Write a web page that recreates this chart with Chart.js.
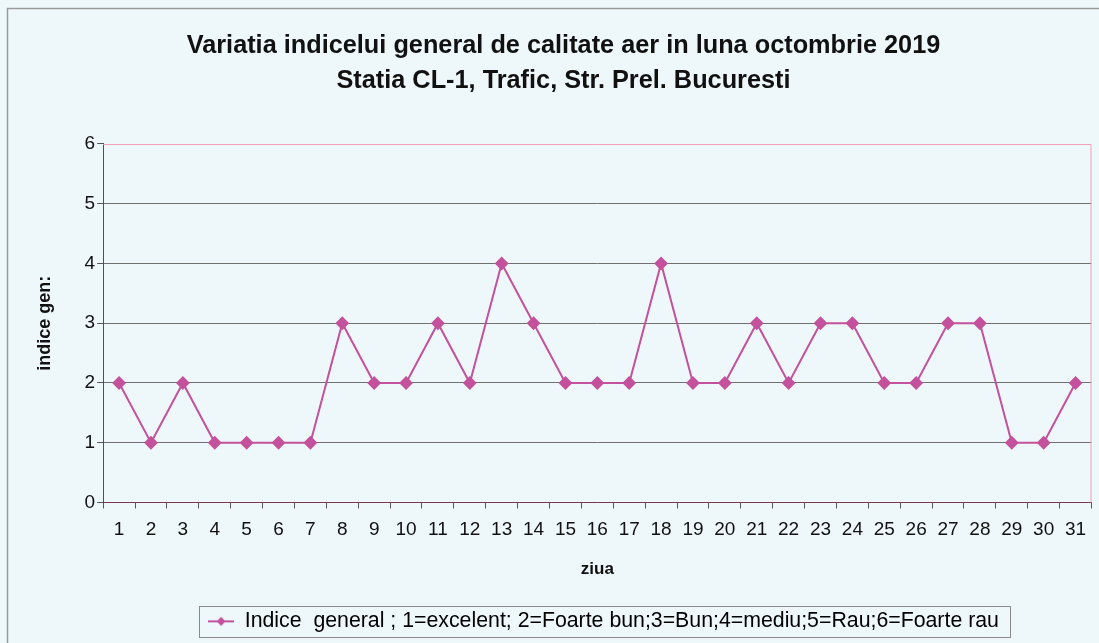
<!DOCTYPE html>
<html>
<head>
<meta charset="utf-8">
<script src="https://cdn.jsdelivr.net/npm/chart.js@4.4.0/dist/chart.umd.min.js"></script>
<style>
  body { margin: 0; background: #eef8fb; }
  canvas { display: block; }
</style>
</head>
<body>
<canvas id="myChart" width="1099" height="643"></canvas>
<script>
// days of october 2019
const days = ["1","2","3","4","5","6","7","8","9","10","11","12","13","14","15","16","17","18","19","20","21","22","23","24","25","26","27","28","29","30","31"];
// general index per day
const indexValues = [2,1,2,1,1,1,1,3,2,2,3,2,4,3,2,2,2,4,2,2,3,2,3,3,2,2,3,3,1,1,2];
const yTicks = [0,1,2,3,4,5,6];

const titleLines = ["Variatia indicelui general de calitate aer in luna octombrie 2019", "Statia CL-1, Trafic, Str. Prel. Bucuresti"];
const seriesLabel = "Indice  general ; 1=excelent; 2=Foarte bun;3=Bun;4=mediu;5=Rau;6=Foarte rau";

const lineColor = "#c4519c";

//legend symbol: short line with a diamond in the middle
const legendSymbol = document.createElement("canvas");
legendSymbol.width = 26;
legendSymbol.height = 12;
const sctx = legendSymbol.getContext("2d");
sctx.strokeStyle = lineColor;
sctx.lineWidth = 2;
sctx.beginPath();
sctx.moveTo(0, 6);
sctx.lineTo(26, 6);
sctx.stroke();
sctx.fillStyle = lineColor;
sctx.beginPath();
sctx.moveTo(13, 1.5);
sctx.lineTo(17.5, 6);
sctx.lineTo(13, 10.5);
sctx.lineTo(8.5, 6);
sctx.closePath();
sctx.fill();

//background, outer frame, plot frame and legend box
const framePlugin = {
  id: "frames",
  afterLayout(chart) {
    //legend sits under the plot area, not the whole canvas
    chart.legend.left += 40;
    chart.legend.right += 40;
  },
  beforeDraw(chart) {
    const c = chart.ctx;
    c.save();
    c.fillStyle = "#eef8fb";
    c.fillRect(0, 0, chart.width, chart.height);
    c.strokeStyle = "#9a9a9a";
    c.lineWidth = 1.5;
    c.strokeRect(7.5, 8.5, chart.width + 20, chart.height + 20);
    c.restore();
  },
  afterDraw(chart) {
    const c = chart.ctx;
    const a = chart.chartArea;
    c.save();
    c.strokeStyle = "#f0a0b8";
    c.lineWidth = 1;
    c.beginPath();
    c.moveTo(a.left, a.top + 0.5);
    c.lineTo(a.right - 0.5, a.top + 0.5);
    c.lineTo(a.right - 0.5, a.bottom);
    c.stroke();
    const hb = chart.legend.legendHitBoxes[0];
    if (hb) {
      c.strokeStyle = "#8a8a8a";
      c.lineWidth = 1;
      const x0 = Math.round(hb.left - 9) + 0.5;
      const y0 = Math.round(hb.top + hb.height / 2 - 15.5) + 0.5;
      c.strokeRect(x0, y0, Math.round(hb.width + 20), 31);
    }
    c.restore();
  }
};

const data = {
  labels: days,
  datasets: [{
    label: seriesLabel,
    data: indexValues,
    borderColor: lineColor,
    backgroundColor: lineColor,
    borderWidth: 2,
    pointStyle: "rectRot",
    pointRadius: 5.5,
    pointHoverRadius: 5.5,
    tension: 0
  }]
};

const config = {
  type: "line",
  data,
  plugins: [framePlugin],
  options: {
    responsive: false,
    animation: false,
    layout: { padding: { top: 8, left: 34, right: 6, bottom: 1 } },
    plugins: {
      title: {
        display: true,
        text: titleLines,
        color: "#111",
        font: { family: "Liberation Sans", size: 25.3, weight: "bold", lineHeight: 1.383 },
        padding: { top: 21, bottom: 45 }
      },
      legend: {
        position: "bottom",
        labels: {
          color: "#111",
          font: { family: "Liberation Sans", size: 21.3 },
          usePointStyle: true,
          pointStyleWidth: 26,
          padding: 8,
          generateLabels(chart) {
            return [{
              text: seriesLabel,
              pointStyle: legendSymbol,
              fillStyle: lineColor,
              strokeStyle: lineColor,
              lineWidth: 0,
              datasetIndex: 0
            }];
          }
        }
      },
      tooltip: { enabled: false }
    },
    scales: {
      x: {
        offset: true,
        grid: { offset: true, drawOnChartArea: false, drawTicks: true, tickLength: 6, color: "#555" },
        border: { color: "#7a3a4a", width: 1 },
        ticks: { color: "#111", font: { family: "Liberation Sans", size: 19 }, padding: 10, maxRotation: 0, autoSkip: false },
        title: { display: true, text: "ziua", color: "#111", font: { family: "Liberation Sans", size: 17, weight: "bold" }, padding: { top: 8, bottom: 23 } }
      },
      y: {
        min: 0,
        max: 6,
        afterBuildTicks(axis) { axis.ticks = yTicks.map(v => ({ value: v })); },
        grid: {
          color: (ctx) => ctx.tick && ctx.tick.value === 6 ? "rgba(0,0,0,0)" : "#707070",
          tickLength: 6,
          tickColor: "#555"
        },
        border: { color: "#7a3a4a", width: 1 },
        ticks: { color: "#111", font: { family: "Liberation Sans", size: 19 }, padding: 2 },
        title: { display: true, text: "indice gen:", color: "#111", font: { family: "Liberation Sans", size: 18, weight: "bold" }, padding: { top: 0, bottom: 27 } }
      }
    }
  }
};

let ctx = document.getElementById("myChart");
let myChart = new Chart(ctx, config);
</script>
</body>
</html>
